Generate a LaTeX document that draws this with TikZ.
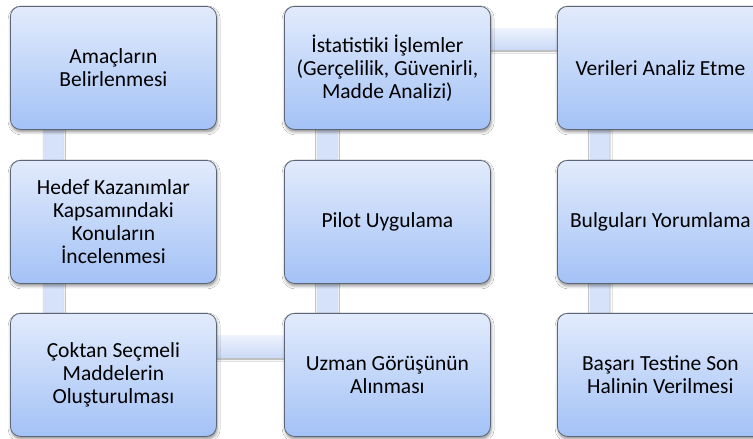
\documentclass[tikz,border=0pt]{standalone}
\usepackage{fontspec}
\setmainfont{Carlito}
\usetikzlibrary{calc,backgrounds,shadows.blur}

\definecolor{boxtop}{RGB}{226,235,252}
\definecolor{boxbottom}{RGB}{163,194,246}
\definecolor{boxedge}{RGB}{92,102,118}
\definecolor{linkblue}{RGB}{214,226,249}
\definecolor{linklight}{RGB}{238,243,253}
\definecolor{linkdark}{RGB}{203,218,247}

\begin{document}
\begin{tikzpicture}[x=1pt,y=-1pt,
  stepbox/.style={anchor=north west, draw=boxedge, line width=0.8pt,
    rounded corners=10pt, minimum width=206pt, minimum height=123pt,
    inner sep=0pt, top color=boxtop, bottom color=boxbottom,
    align=center, text=black, font=\fontsize{21.5}{23}\selectfont,
    blur shadow={shadow xshift=0.8pt, shadow yshift=-2.5pt,
      shadow blur radius=3pt, shadow opacity=45}},
  vband/.style={fill=linkblue,
    blur shadow={shadow xshift=1pt, shadow yshift=-1pt,
      shadow blur radius=2pt, shadow opacity=25}},
  hband/.style={top color=linklight, bottom color=linkdark,
    blur shadow={shadow xshift=0pt, shadow yshift=-2pt,
      shadow blur radius=2pt, shadow opacity=40}}
]
\useasboundingbox (0,0) rectangle (753,439);

% first column (top to bottom)
\node[stepbox] (a1) at (10,6)   {Amaçların\\Belirlenmesi};
\node[stepbox] (a2) at (10,160) {Hedef Kazanımlar\\Kapsamındaki\\Konuların\\İncelenmesi};
\node[stepbox] (a3) at (10,313) {Çoktan Seçmeli\\Maddelerin\\Oluşturulması};

% second column (bottom to top)
\node[stepbox] (b3) at (284,313) {Uzman Görüşünün\\Alınması};
\node[stepbox] (b2) at (284,160) {Pilot Uygulama};
\node[stepbox] (b1) at (284,6)   {İstatistiki İşlemler\\(Gerçelilik, Güvenirli,\\Madde Analizi)};

% third column (top to bottom)
\node[stepbox] (c1) at (557,6)   {Verileri Analiz Etme};
\node[stepbox] (c2) at (557,160) {Bulguları Yorumlama};
\node[stepbox] (c3) at (557,313) {Başarı Testine Son\\Halinin Verilmesi};

% bent connector bands behind the boxes
\begin{scope}[on background layer]
  \fill[white] (0,0) rectangle (753,439);
  \path[vband] ($(a1.south west)+(33,-8)$) rectangle ($(a3.north west)+(52.5,8)$);
  \path[hband] ($(a3.north east)+(-8,22)$) rectangle ($(b3.north west)+(8,44)$);
  \path[vband] ($(b1.south west)+(32.5,-8)$) rectangle ($(b3.north west)+(52.5,8)$);
  \path[hband] ($(b1.north east)+(-8,22)$) rectangle ($(c1.north west)+(8,43)$);
  \path[vband] ($(c1.south west)+(32.5,-8)$) rectangle ($(c3.north west)+(52,8)$);
\end{scope}
\end{tikzpicture}
\end{document}
